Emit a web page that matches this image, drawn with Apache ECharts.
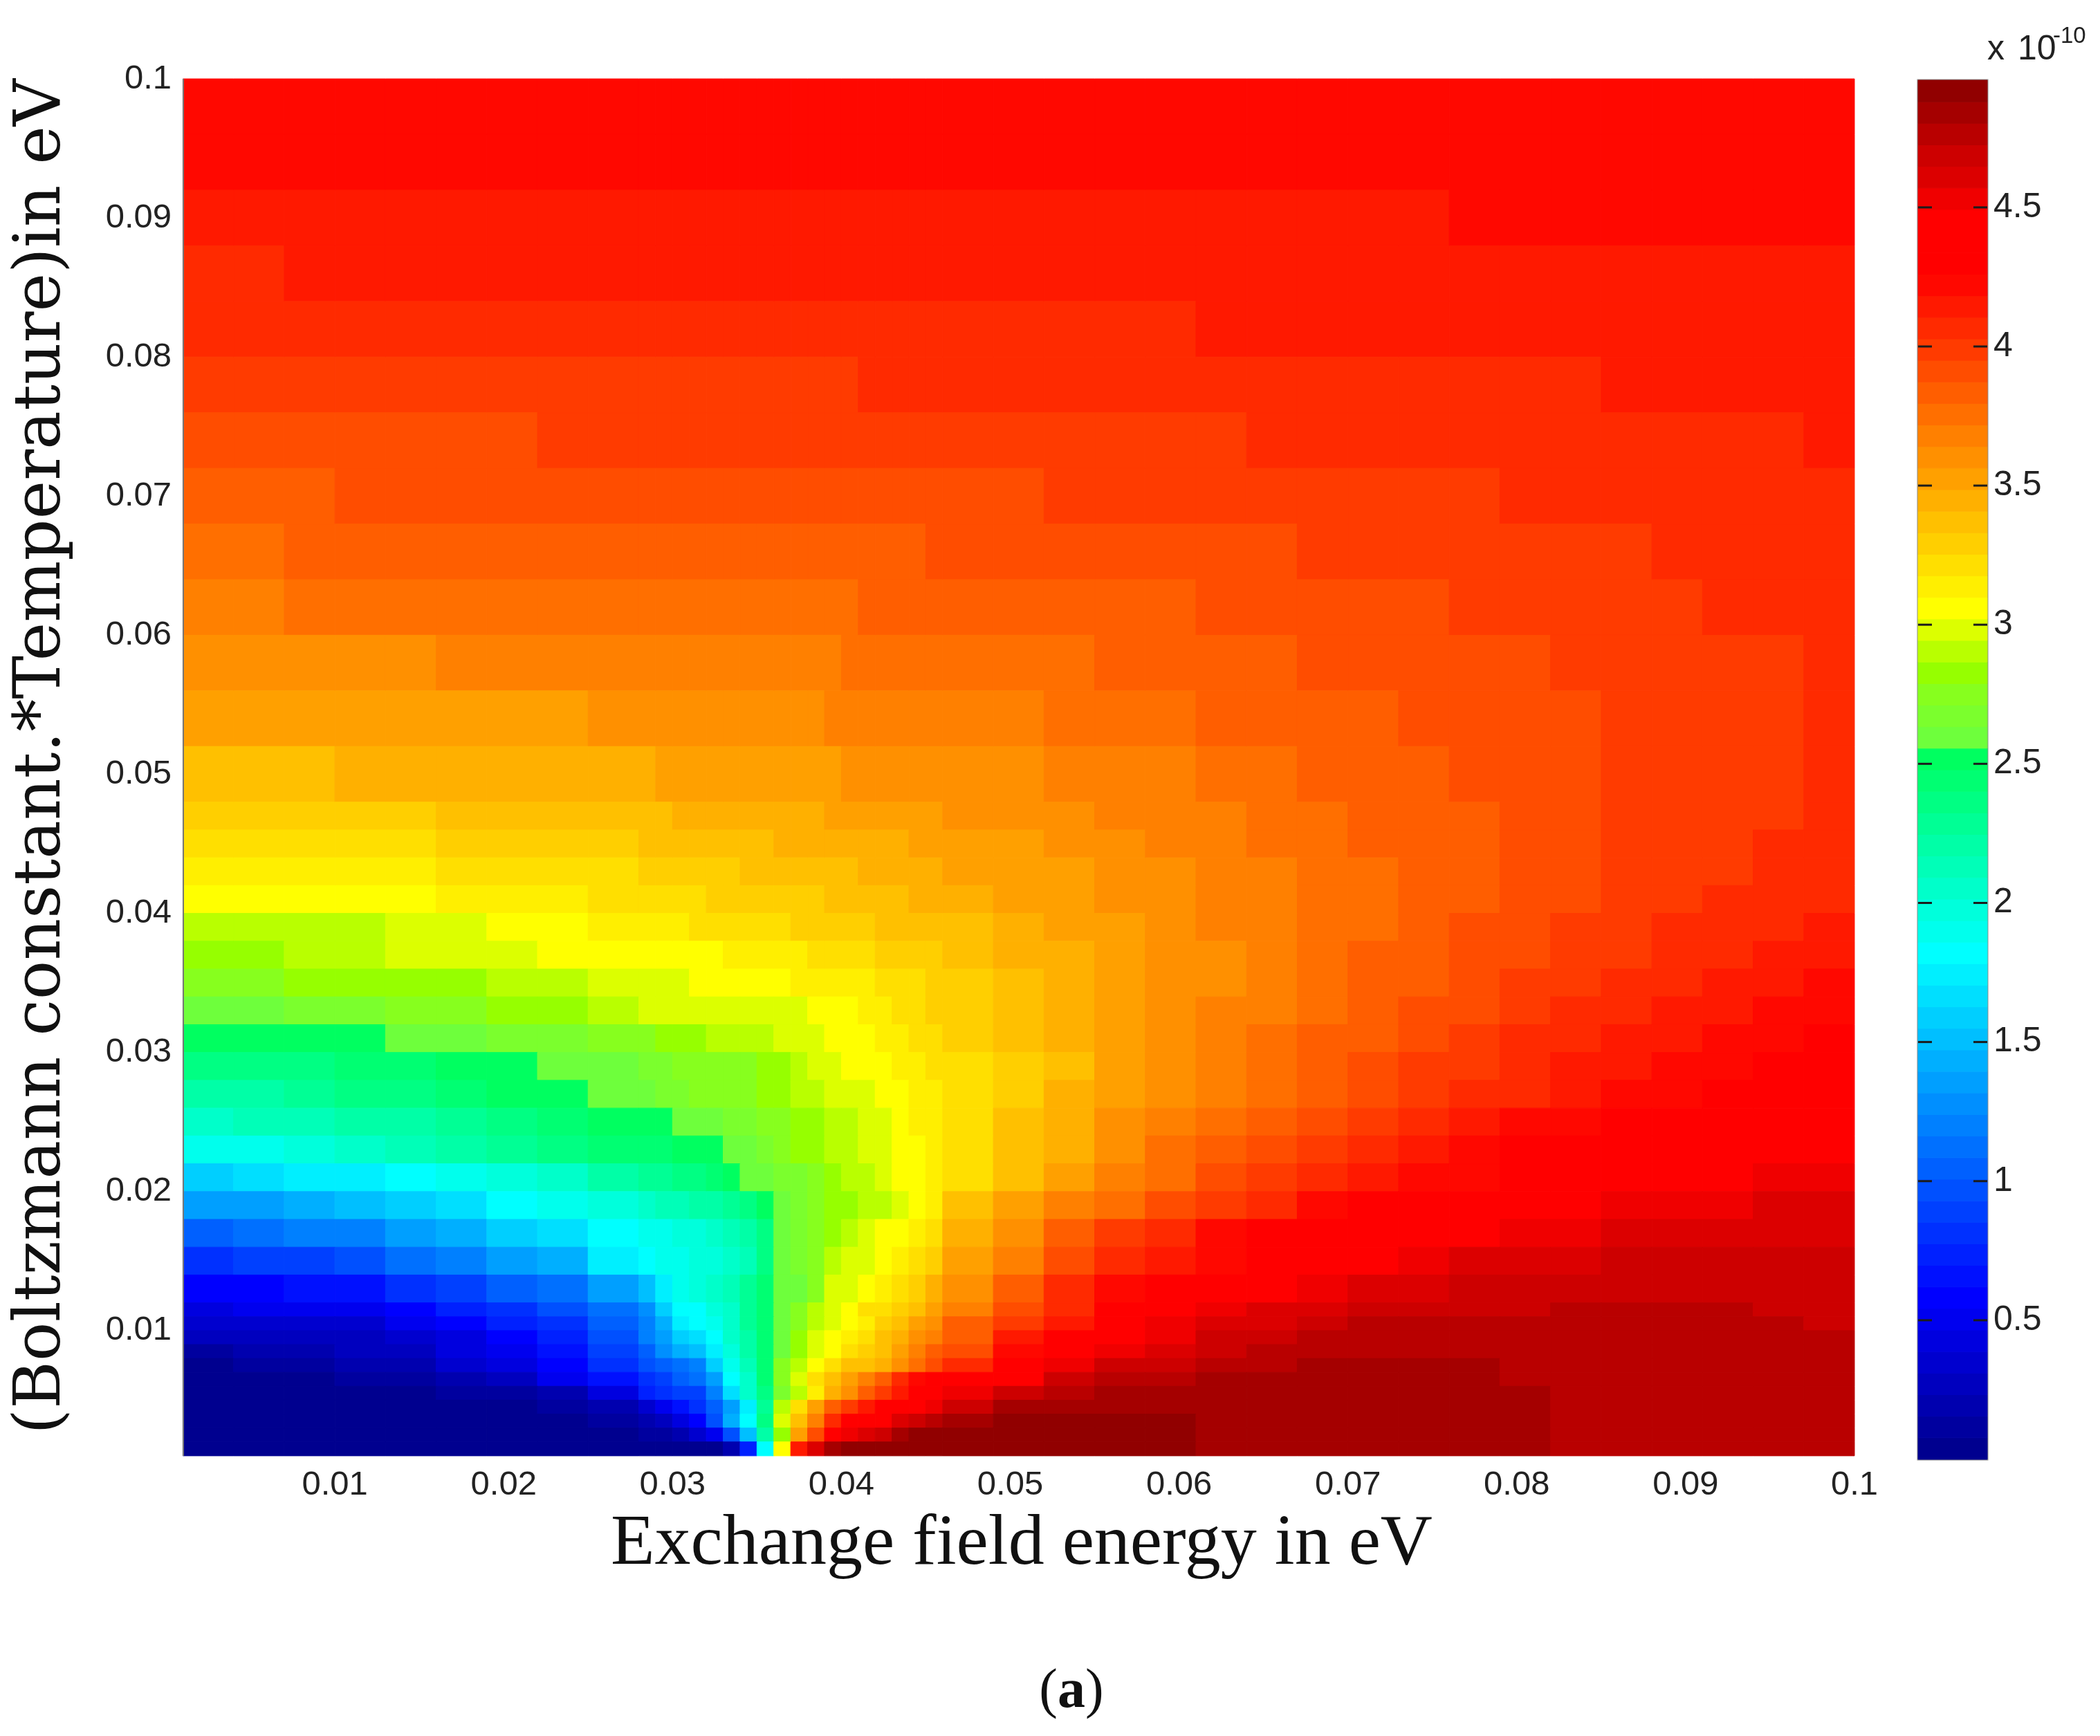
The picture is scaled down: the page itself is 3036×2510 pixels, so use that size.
<!DOCTYPE html>
<html>
<head>
<meta charset="utf-8">
<style>html,body{margin:0;background:#fff}#main{width:3036px;height:2510px}</style>
<script src="https://cdn.jsdelivr.net/npm/echarts@6/dist/echarts.min.js"></script>
</head>
<body>
<div id="main"></div>
<script>
// cell edges, in meV (finer where the colours change fast)
const energyEdges = [1,4,7,10,13,16,19,22,25,28,29,30,31,32,33,34,35,36,37,38,39,40,41,42,43,44,45,46,49,52,55,58,61,64,67,70,73,76,79,82,85,88,91,94,97,100];
const thermalEdges = [1,2,3,4,5,6,7,8,9,10,11,12,14,16,18,20,22,24,26,28,30,32,34,36,38,40,42,44,46,48,52,56,60,64,68,72,76,80,84,88,92,96,100];

// colour level (1-64) of each cell, top row first
const heatLevels = [
[55,55,55,55,55,55,55,55,55, 55,55,55,55,55,55,55,55,55,55,55,55,55,55,55,55,55,55, 55,55,55,55,55,55,55,55,55,55,55,55,55,55,55,55,55,55],
[55,55,55,55,55,55,55,55,55, 55,55,55,55,55,55,55,55,55,55,55,55,55,55,55,55,55,55, 55,55,55,55,55,55,55,55,55,55,55,55,55,55,55,55,55,55],
[54,54,54,54,54,54,54,54,54, 54,54,54,54,54,54,54,54,54,54,54,54,54,54,54,54,54,54, 54,54,54,54,54,54,54,54,54,54,55,55,55,55,55,55,55,55],
[53,53,54,54,54,54,54,54,54, 54,54,54,54,54,54,54,54,54,54,54,54,54,54,54,54,54,54, 54,54,54,54,54,54,54,54,54,54,54,54,54,54,54,54,54,54],
[53,53,53,53,53,53,53,53,53, 53,53,53,53,53,53,53,53,53,53,53,53,53,53,53,53,53,53, 53,53,53,53,53,54,54,54,54,54,54,54,54,54,54,54,54,54],
[52,52,52,52,52,52,52,52,52, 52,52,52,52,52,52,52,52,52,52,52,52,52,53,53,53,53,53, 53,53,53,53,53,53,53,53,53,53,53,53,53,54,54,54,54,54],
[51,51,51,51,51,51,51,52,52, 52,52,52,52,52,52,52,52,52,52,52,52,52,52,52,52,52,52, 52,52,52,52,52,52,53,53,53,53,53,53,53,53,53,53,53,54],
[50,50,50,51,51,51,51,51,51, 51,51,51,51,51,51,51,51,51,51,51,51,51,51,51,51,51,51, 51,51,52,52,52,52,52,52,52,52,52,53,53,53,53,53,53,53],
[49,49,50,50,50,50,50,50,50, 50,50,50,50,50,50,50,50,50,50,50,50,50,50,50,50,50,51, 51,51,51,51,51,51,51,52,52,52,52,52,52,52,53,53,53,53],
[48,48,49,49,49,49,49,49,49, 49,49,49,49,49,49,49,49,49,49,49,49,49,50,50,50,50,50, 50,50,50,50,50,51,51,51,51,51,52,52,52,52,52,53,53,53],
[47,47,47,47,47,48,48,48,48, 48,48,48,48,48,48,48,48,48,48,48,48,49,49,49,49,49,49, 49,49,49,50,50,50,50,51,51,51,51,51,52,52,52,52,52,53],
[46,46,46,46,46,46,46,46,47, 47,47,47,47,47,47,47,47,47,47,47,48,48,48,48,48,48,48, 48,48,49,49,49,50,50,50,50,51,51,51,51,52,52,52,52,53],
[44,44,44,45,45,45,45,45,45, 45,46,46,46,46,46,46,46,46,46,46,46,47,47,47,47,47,47, 47,47,48,48,48,49,49,50,50,50,51,51,51,52,52,52,52,53],
[43,43,43,43,43,44,44,44,44, 44,44,45,45,45,45,45,45,45,45,45,46,46,46,46,46,46,46, 47,47,47,48,48,48,49,49,50,50,50,51,51,52,52,52,52,53],
[42,42,42,42,42,43,43,43,43, 44,44,44,44,44,44,44,44,45,45,45,45,45,45,45,45,46,46, 46,46,47,47,48,48,49,49,50,50,50,51,51,52,52,52,53,53],
[41,41,41,41,41,42,42,42,42, 43,43,43,43,43,43,44,44,44,44,44,44,44,45,45,45,45,45, 46,46,46,47,47,48,48,49,49,50,50,51,51,52,52,52,53,53],
[40,40,40,40,40,41,41,41,42, 42,42,42,42,43,43,43,43,43,43,43,44,44,44,44,44,45,45, 45,46,46,47,47,48,48,49,49,50,50,51,51,52,52,53,53,53],
[38,38,38,38,39,39,40,40,41, 41,41,41,42,42,42,42,42,42,43,43,43,43,43,44,44,44,44, 44,45,46,46,47,48,48,49,49,50,51,51,52,52,53,53,53,54],
[37,37,38,38,39,39,39,40,40, 40,40,40,40,40,41,41,41,41,41,42,42,42,42,43,43,43,43, 44,45,45,46,47,47,48,49,50,50,51,51,52,52,53,53,54,54],
[36,36,37,37,37,37,38,38,39, 39,39,39,40,40,40,40,40,40,41,41,41,41,41,42,42,42,43, 43,44,45,46,47,47,48,49,50,50,51,52,52,53,53,54,54,55],
[34,34,35,35,36,36,37,37,38, 39,39,39,39,39,39,39,39,39,39,40,40,40,41,41,42,42,43, 43,44,45,46,47,48,48,49,50,51,51,52,53,53,54,54,55,55],
[33,33,33,33,34,34,35,35,36, 36,37,37,37,38,38,38,38,39,39,39,40,40,40,41,41,42,42, 43,44,45,46,47,48,49,50,50,51,52,53,53,54,54,55,55,56],
[31,31,31,32,32,33,33,34,34, 35,35,36,36,36,36,36,37,37,38,39,39,40,40,40,41,41,42, 42,43,44,46,47,48,49,50,51,52,52,53,54,54,55,55,56,56],
[29,29,30,31,31,32,33,33,34, 34,35,35,36,36,36,36,37,37,38,38,39,39,39,40,40,41,41, 42,43,45,46,47,48,49,50,51,52,53,53,54,55,55,56,56,56],
[27,28,28,29,29,30,31,32,33, 33,33,34,34,34,35,35,36,36,37,37,38,38,39,39,40,41,41, 42,44,45,47,48,49,50,51,52,53,54,55,55,56,56,56,56,56],
[25,25,26,27,28,29,30,31,32, 32,32,33,33,33,34,34,35,36,37,37,38,38,39,39,40,40,41, 42,44,45,47,49,50,51,52,53,54,55,56,56,56,56,56,56,56],
[21,22,23,23,24,25,26,27,29, 30,30,31,31,32,33,34,34,35,35,36,37,38,38,39,40,40,41, 42,44,46,48,49,51,52,53,54,55,55,56,56,56,56,56,59,59],
[18,18,19,20,21,22,24,25,26, 27,28,28,29,29,30,31,33,34,35,36,37,37,38,38,39,40,41, 44,46,48,49,51,52,53,55,56,56,56,56,56,59,59,59,60,60],
[14,15,16,16,18,19,21,22,24, 25,25,26,26,27,28,29,31,34,35,36,37,38,39,40,40,41,42, 45,47,50,52,53,55,56,56,56,56,56,59,59,60,60,60,60,60],
[11,12,12,13,15,16,18,19,23, 24,25,25,26,26,27,28,31,34,35,36,38,39,39,40,41,42,43, 46,48,51,53,54,55,56,56,56,59,60,60,60,61,61,61,61,61],
[8,8,9,9,11,12,14,15,18, 20,23,25,26,27,28,30,32,34,34,36,39,39,40,41,42,43,45, 47,50,53,55,56,56,56,59,60,60,61,61,61,61,61,61,61,61],
[6,7,7,7,8,10,11,13,15, 17,21,24,24,26,27,30,32,34,36,38,39,40,42,42,43,44,46, 48,51,53,56,56,59,60,60,61,61,61,61,62,62,62,62,61,61],
[5,5,5,5,7,8,10,11,14, 16,19,23,24,25,27,30,32,34,36,38,39,40,41,43,44,46,47, 50,52,54,56,59,60,60,61,62,62,62,62,62,62,62,62,62,61],
[4,4,4,4,5,6,8,10,13, 16,18,21,22,24,27,29,32,34,37,39,40,41,42,44,45,47,48, 50,54,56,56,59,61,61,62,62,62,62,62,62,62,62,62,62,62],
[2,3,3,4,4,6,7,9,12, 14,17,19,20,23,26,29,32,34,37,39,40,42,43,44,46,48,50, 51,55,57,59,60,61,62,62,62,62,62,62,62,62,62,62,62,62],
[1,2,2,3,3,5,6,8,11, 13,14,15,16,21,25,28,32,36,38,40,42,44,44,45,47,49,51, 53,57,59,61,61,62,62,63,63,63,63,62,62,62,62,62,62,62],
[1,1,1,2,2,3,4,7,9, 11,12,14,15,18,24,27,32,36,39,42,44,46,48,50,53,55,57, 57,57,61,62,62,63,63,63,63,63,63,62,62,62,62,62,62,62],
[1,1,1,1,1,2,2,3,6, 10,11,12,12,16,22,27,31,35,38,41,45,47,50,52,54,57,57, 59,61,62,63,63,63,63,63,63,63,63,63,62,62,62,62,62,62],
[1,1,1,1,1,1,1,2,3, 5,7,9,11,14,18,23,30,38,42,46,50,52,54,57,57,57,59, 61,63,63,63,63,63,63,63,63,63,63,63,62,62,62,62,62,62],
[1,1,1,1,1,1,1,1,2, 3,4,6,8,13,19,24,31,39,44,48,53,57,57,57,60,61,62, 63,64,64,64,64,63,63,63,63,63,63,63,62,62,62,62,62,62],
[1,1,1,1,1,1,1,1,1, 2,2,3,5,7,13,20,29,37,46,51,57,59,60,61,63,64,64, 64,64,64,64,64,63,63,63,63,63,63,63,62,62,62,62,62,62],
[1,1,1,1,1,1,1,1,1, 1,1,1,1,1,3,10,24,40,54,60,63,64,64,64,64,64,64, 64,64,64,64,64,63,63,63,63,63,63,63,62,62,62,62,62,62]
];

const axisMax = 0.1, axisStep = 0.01;
const barMax = 4.957, barStep = 0.5;
const barTicks = [0.5, 1, 1.5, 2, 2.5, 3, 3.5, 4, 4.5];
const levelCount = 64;
const levelSize = barMax / levelCount;

// colour stops of the bar, as level: [r,g,b]
const colorStops = [
  [1,[0,0,143]],[8,[0,0,255]],[24,[0,255,255]],[33,[0,255,96]],[34,[110,255,60]],
  [36,[135,255,30]],[37,[150,255,0]],[40,[255,255,0]],[48,[255,128,0]],[55,[255,8,0]],
  [56,[255,0,0]],[58,[255,0,0]],[59,[240,0,0]],[60,[220,0,0]],[61,[205,0,0]],
  [62,[185,0,0]],[63,[165,0,0]],[64,[145,0,0]]
];

function levelColor(level) {
  for (let i = 1; i < colorStops.length; i++) {
    const a = colorStops[i - 1], b = colorStops[i];
    if (level <= b[0]) {
      const t = (level - a[0]) / (b[0] - a[0]);
      const c = a[1].map((v, n) => Math.round(v + (b[1][n] - v) * t));
      return 'rgb(' + c.join(',') + ')';
    }
  }
  return 'rgb(145,0,0)';
}

const heatData = [];
heatLevels.forEach((row, r) => {
  const j = heatLevels.length - 1 - r;
  row.forEach((level, i) => {
    heatData.push([energyEdges[i] / 1000, energyEdges[i + 1] / 1000, thermalEdges[j] / 1000, thermalEdges[j + 1] / 1000, level]);
  });
});

const barData = [];
for (let k = 1; k <= levelCount; k++) {
  barData.push([0, 1, (k - 1) * levelSize, k * levelSize, k]);
}

function drawCell(params, api) {
  const p0 = api.coord([api.value(0), api.value(3)]);
  const p1 = api.coord([api.value(1), api.value(2)]);
  const color = levelColor(api.value(4));
  return {
    type: 'rect',
    shape: { x: p0[0], y: p0[1], width: p1[0] - p0[0], height: p1[1] - p0[1] },
    style: { fill: color, stroke: color, lineWidth: 1 }
  };
}

// short inner ticks on both sides of the bar
function drawBarTick(params, api) {
  const v = api.value(0);
  const line = (a, b) => {
    const p0 = api.coord([a, v]), p1 = api.coord([b, v]);
    return {
      type: 'line',
      shape: { x1: p0[0], y1: p0[1], x2: p1[0], y2: p1[1] },
      style: { stroke: '#1c1c1c', lineWidth: 3 }
    };
  };
  return { type: 'group', children: [line(0, 0.2), line(0.8, 1)] };
}

const plotLabel = { fontFamily: 'Liberation Sans', fontSize: 49, color: '#222' };
const barLabel = { fontFamily: 'Liberation Sans', fontSize: 50, color: '#222' };
const axisText = v => (v === 0 ? '' : String(+v.toFixed(2)));

let myChart = echarts.init(document.getElementById('main'), null, { renderer: 'canvas' });
myChart.setOption({
  animation: false,
  backgroundColor: '#fff',
  grid: [
    { left: 240, top: 114, width: 2441, height: 2011 },
    { left: 2773, top: 116, width: 100, height: 1994, show: true, backgroundColor: 'transparent', borderColor: '#8a8a8a', borderWidth: 3 }
  ],
  xAxis: [
    {
      type: 'value', gridIndex: 0, min: 0, max: axisMax, interval: axisStep,
      axisLine: { show: false }, axisTick: { show: false }, splitLine: { show: false },
      axisLabel: { ...plotLabel, margin: -2, showMaxLabel: true, formatter: axisText }
    },
    { type: 'value', gridIndex: 1, min: 0, max: 1, show: false }
  ],
  yAxis: [
    {
      type: 'value', gridIndex: 0, min: 0, max: axisMax, interval: axisStep,
      axisLine: { show: false }, axisTick: { show: false }, splitLine: { show: false },
      axisLabel: { ...plotLabel, margin: -8, showMaxLabel: true, formatter: axisText }
    },
    {
      type: 'value', gridIndex: 1, position: 'right', min: 0, max: barMax, interval: barStep,
      axisLine: { show: false }, splitLine: { show: false }, axisTick: { show: false },
      axisLabel: { ...barLabel, margin: 9, showMinLabel: false, showMaxLabel: false }
    }
  ],
  series: [
    {
      type: 'custom', xAxisIndex: 0, yAxisIndex: 0, clip: false, silent: true,
      renderItem: drawCell, data: heatData,
      encode: { x: [0, 1], y: [2, 3] },
      markLine: {
        silent: true, symbol: 'none', label: { show: false }, animation: false,
        lineStyle: { color: '#777', width: 2, type: 'solid' },
        data: [[{ coord: [0.001, 0.001] }, { coord: [0.001, 0.1] }]]
      }
    },
    {
      type: 'custom', xAxisIndex: 1, yAxisIndex: 1, clip: false, silent: true, z: 1,
      renderItem: drawCell, data: barData,
      encode: { x: [0, 1], y: [2, 3] }
    },
    {
      type: 'custom', xAxisIndex: 1, yAxisIndex: 1, clip: false, silent: true, z: 3,
      renderItem: drawBarTick, data: barTicks.map(v => [v]),
      encode: { y: 0 }
    }
  ],
  graphic: [
    { type: 'text', x: 1477, y: 2234, style: { text: 'Exchange field energy in eV', fontFamily: 'Liberation Serif', fontSize: 104, fill: '#111', textAlign: 'center', textVerticalAlign: 'middle' } },
    { type: 'text', x: 62, y: 1094, rotation: Math.PI / 2, style: { text: '(Boltzmann constant.*Temperature)in eV', fontFamily: 'DejaVu Serif', fontSize: 94, fill: '#111', textAlign: 'center', textVerticalAlign: 'middle' } },
    { type: 'text', x: 2873, y: 97, style: { text: 'x', fontFamily: 'Liberation Sans', fontSize: 50, fill: '#222', textAlign: 'left', textVerticalAlign: 'bottom' } },
    { type: 'text', x: 2917, y: 97, style: { text: '10', fontFamily: 'Liberation Sans', fontSize: 50, fill: '#222', textAlign: 'left', textVerticalAlign: 'bottom' } },
    { type: 'text', x: 2968, y: 69, style: { text: '-10', fontFamily: 'Liberation Sans', fontSize: 33, fill: '#222', textAlign: 'left', textVerticalAlign: 'bottom' } },
    { type: 'text', x: 1549, y: 2447, style: { text: '{p|(}{b|a}{p|)}', rich: { p: { fontFamily: 'Liberation Serif', fontSize: 80, fill: '#111' }, b: { fontFamily: 'Liberation Serif', fontWeight: 'bold', fontSize: 80, fill: '#111' } }, textAlign: 'center', textVerticalAlign: 'middle' } }
  ]
});
</script>
</body>
</html>
